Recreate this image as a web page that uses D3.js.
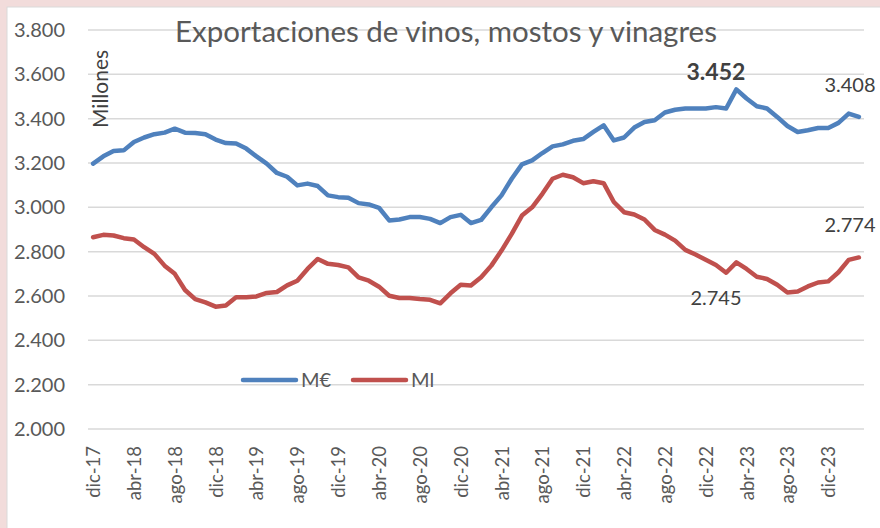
<html>
<head>
<meta charset="utf-8">
<script src="https://cdn.jsdelivr.net/npm/d3@7"></script>
<style>
  body { margin: 0; background: #f2dcdb; }
  svg { display: block; font-family: Lato, "Open Sans", sans-serif; }
</style>
</head>
<body>
<svg width="880" height="528"></svg>
<script>
// months dic-17 .. mar-24
const categories = [
  'dic-17','ene-18','feb-18','mar-18','abr-18','may-18','jun-18','jul-18','ago-18','sep-18','oct-18','nov-18',
  'dic-18','ene-19','feb-19','mar-19','abr-19','may-19','jun-19','jul-19','ago-19','sep-19','oct-19','nov-19',
  'dic-19','ene-20','feb-20','mar-20','abr-20','may-20','jun-20','jul-20','ago-20','sep-20','oct-20','nov-20',
  'dic-20','ene-21','feb-21','mar-21','abr-21','may-21','jun-21','jul-21','ago-21','sep-21','oct-21','nov-21',
  'dic-21','ene-22','feb-22','mar-22','abr-22','may-22','jun-22','jul-22','ago-22','sep-22','oct-22','nov-22',
  'dic-22','ene-23','feb-23','mar-23','abr-23','may-23','jun-23','jul-23','ago-23','sep-23','oct-23','nov-23',
  'dic-23','ene-24','feb-24','mar-24'
];
const tickLabels = ['dic-17','abr-18','ago-18','dic-18','abr-19','ago-19','dic-19','abr-20','ago-20',
  'dic-20','abr-21','ago-21','dic-21','abr-22','ago-22','dic-22','abr-23','ago-23','dic-23'];
const yTicks = [2.0, 2.2, 2.4, 2.6, 2.8, 3.0, 3.2, 3.4, 3.6, 3.8];

const meur = [
  3.197,3.23,3.254,3.257,3.295,3.315,3.33,3.337,3.355,3.337,3.335,3.33,
  3.306,3.29,3.288,3.265,3.23,3.197,3.155,3.138,3.099,3.107,3.096,3.054,
  3.046,3.043,3.019,3.013,2.998,2.941,2.945,2.956,2.956,2.948,2.929,2.956,
  2.966,2.929,2.943,3.0,3.054,3.129,3.194,3.212,3.245,3.275,3.284,3.3,
  3.308,3.34,3.37,3.302,3.315,3.36,3.385,3.393,3.428,3.44,3.446,3.446,
  3.446,3.452,3.446,3.532,3.491,3.456,3.446,3.408,3.367,3.34,3.348,3.358,
  3.358,3.381,3.423,3.408
];
const mlit = [
  2.865,2.876,2.873,2.861,2.855,2.82,2.79,2.737,2.70,2.627,2.586,2.571,
  2.552,2.557,2.594,2.594,2.598,2.614,2.618,2.648,2.669,2.722,2.767,2.745,
  2.74,2.729,2.684,2.669,2.642,2.601,2.591,2.591,2.586,2.583,2.567,2.612,
  2.651,2.647,2.685,2.737,2.805,2.88,2.963,3.0,3.061,3.129,3.147,3.136,
  3.109,3.118,3.109,3.024,2.978,2.968,2.945,2.898,2.877,2.85,2.808,2.787,
  2.763,2.74,2.705,2.752,2.722,2.687,2.677,2.651,2.616,2.62,2.643,2.661,
  2.666,2.707,2.763,2.774
];

const series = [
  {name: 'M€', values: meur, color: '#4f81bd'},
  {name: 'Ml', values: mlit, color: '#c0504d'}
];
// data labels: series index, category, text
const pointLabels = [
  {s: 0, cat: 'ene-23', text: '3.452', bold: true, dy: -27},
  {s: 0, cat: 'mar-24', text: '3.408', bold: false, dy: -25},
  {s: 1, cat: 'ene-23', text: '2.745', bold: false, dy: 40},
  {s: 1, cat: 'mar-24', text: '2.774', bold: false, dy: -25}
];

const svg = d3.select('svg');
svg.append('rect').attr('x', 7).attr('y', 7).attr('width', 880).attr('height', 528)
  .attr('fill', '#fff').attr('stroke', '#d9d9d9');

const x = d3.scalePoint().domain(categories).range([88, 864]).padding(0.5);
const y = d3.scaleLinear().domain([2.0, 3.8]).range([429, 30]);

// grid
svg.append('g').selectAll('line').data(yTicks).enter().append('line')
  .attr('x1', 88).attr('x2', 864)
  .attr('y1', d => y(d)).attr('y2', d => y(d))
  .attr('stroke', '#d9d9d9').attr('stroke-width', 1.5);

// y labels
const yAxis = svg.append('g').attr('transform', 'translate(70,0)')
  .call(d3.axisLeft(y).tickValues(yTicks).tickSize(0).tickPadding(5).tickFormat(d => d3.format('.3f')(d)));
yAxis.select('.domain').remove();
yAxis.selectAll('text').attr('font-size', 20).attr('fill', '#595959')
  .style('font-family', 'Lato, sans-serif');

// x labels
const xAxis = svg.append('g').attr('transform', 'translate(0,446)')
  .call(d3.axisBottom(x).tickValues(tickLabels).tickSize(0).tickPadding(0));
xAxis.select('.domain').remove();
xAxis.selectAll('text')
  .attr('font-size', 18.5).attr('fill', '#595959')
  .style('font-family', 'Lato, sans-serif')
  .attr('text-anchor', 'end')
  .attr('transform', 'rotate(-90)')
  .attr('x', 0).attr('y', 0).attr('dy', '0.35em');

// lines
const line = d3.line().x((d, i) => x(categories[i])).y(d => y(d));
svg.append('g').selectAll('path').data(series).enter().append('path')
  .attr('d', d => line(d.values))
  .attr('fill', 'none')
  .attr('stroke', d => d.color)
  .attr('stroke-width', 4.5)
  .attr('stroke-linejoin', 'round')
  .attr('stroke-linecap', 'round');

// point labels
svg.append('g').selectAll('text').data(pointLabels).enter().append('text')
  .attr('x', d => Math.min(x(d.cat), 850))
  .attr('y', d => y(series[d.s].values[categories.indexOf(d.cat)]) + d.dy)
  .attr('text-anchor', 'middle')
  .attr('font-size', d => d.bold ? 23 : 20)
  .attr('font-weight', d => d.bold ? 'bold' : 'normal')
  .attr('fill', '#404040')
  .text(d => d.text);

// title
svg.append('text').attr('x', 446).attr('y', 42).attr('text-anchor', 'middle')
  .attr('font-size', 29.5).attr('fill', '#595959')
  .text('Exportaciones de vinos, mostos y vinagres');

// unit
svg.append('text').attr('transform', 'translate(101,128) rotate(-90)')
  .attr('dy', '0.35em').attr('font-size', 21).attr('fill', '#404040')
  .text('Millones');

// legend
const legend = svg.append('g').selectAll('g').data(series).enter().append('g')
  .attr('transform', (d, i) => `translate(${243 + i * 110},380)`);
legend.append('line').attr('x1', 0).attr('x2', 53).attr('y1', 0).attr('y2', 0)
  .attr('stroke', d => d.color).attr('stroke-width', 4.5).attr('stroke-linecap', 'round');
legend.append('text').attr('x', 58).attr('y', 7).attr('font-size', 20).attr('fill', '#595959')
  .text(d => d.name);
</script>
</body>
</html>
